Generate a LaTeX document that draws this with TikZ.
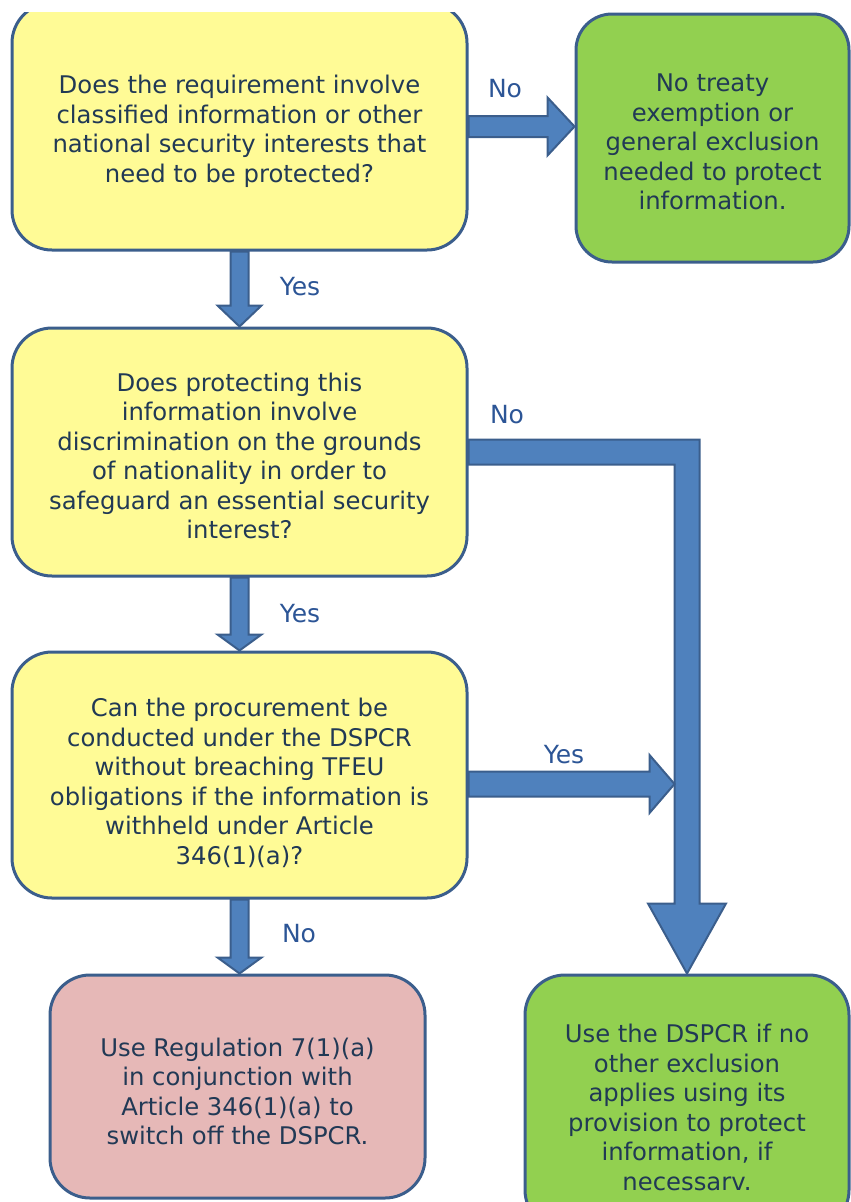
\documentclass[tikz,border=0pt]{standalone}
\usepackage{fontspec}
\setmainfont{DejaVu Sans}
\usetikzlibrary{calc}
\definecolor{qyellow}{HTML}{FFFB96}
\definecolor{okgreen}{HTML}{92D050}
\definecolor{stoppink}{HTML}{E6B8B7}
\definecolor{edge}{HTML}{3B5E8C}
\definecolor{barfill}{HTML}{4F81BD}
\definecolor{ink}{HTML}{213955}
\definecolor{lblblue}{HTML}{2C5596}
\newcommand\lift[1]{\rule{0pt}{#1}}
\begin{document}
\begin{tikzpicture}[x=1pt,y=-1pt,line join=miter,
	box/.style={draw=edge,line width=3pt,rounded corners=40pt,align=center,text=ink,inner sep=0pt,font=\fontsize{24.3}{29.5}\selectfont},
	lbl/.style={text=lblblue,anchor=base,font=\fontsize{25}{28}\selectfont},
	barrow/.style={fill=barfill,draw=edge,line width=2pt}]
	\useasboundingbox (0,0) rectangle (851,1202);
	\clip (0,0) rectangle (851,1202);
	\begin{scope}
		\clip (0,12) rectangle (851,1202);
		\node[box,fill=qyellow,minimum width=455pt,minimum height=247pt] (q1) at (239.5,126.5) {\lift{28.5pt}Does the requirement involve\\classified information or other\\national security interests that\\need to be protected?};
	\end{scope}
	\node[box,fill=okgreen,rounded corners=36pt,minimum width=273pt,minimum height=248pt] (no1) at (712.5,138) {\lift{25.5pt}No treaty\\exemption or\\general exclusion\\needed to protect\\information.};
	\node[box,fill=qyellow,minimum width=455pt,minimum height=248pt] (q2) at (239.5,452) {\lift{26.5pt}Does protecting this\\information involve\\discrimination on the grounds\\of nationality in order to\\safeguard an essential security\\interest?};
	\node[box,fill=qyellow,minimum width=455pt,minimum height=246pt] (q3) at (239.5,775) {\lift{34.5pt}Can the procurement be\\conducted under the DSPCR\\without breaching TFEU\\obligations if the information is\\withheld under Article\\346(1)(a)?};
	\node[box,fill=stoppink,minimum width=375pt,minimum height=223pt] (use7) at (237.5,1086.5) {\lift{28.5pt}Use Regulation 7(1)(a)\\in conjunction with\\Article 346(1)(a) to\\switch off the DSPCR.};
	\node[box,fill=okgreen,minimum width=324pt,minimum height=255pt] (dspcr) at (687,1102.5) {\lift{28.5pt}Use the DSPCR if no\\other exclusion\\applies using its\\provision to protect\\information, if\\necessarv.};
	\draw[barrow] ($(q1.east)+(0,-10.5)$) -- ($(no1.west|-q1.east)+(-27,-10.5)$) -- ($(no1.west|-q1.east)+(-27,-29)$) -- (no1.west|-q1.east) -- ($(no1.west|-q1.east)+(-27,29)$) -- ($(no1.west|-q1.east)+(-27,10.5)$) -- ($(q1.east)+(0,10.5)$) -- cycle;
	\draw[barrow] ($(q1.south)+(-9,0)$) -- ($(q2.north)+(-9,-21)$) -- ($(q2.north)+(-22,-21)$) -- (q2.north) -- ($(q2.north)+(22,-21)$) -- ($(q2.north)+(9,-21)$) -- ($(q1.south)+(9,0)$) -- cycle;
	\draw[barrow] ($(q2.south)+(-9,0)$) -- ($(q3.north)+(-9,-16)$) -- ($(q3.north)+(-22,-16)$) -- (q3.north) -- ($(q3.north)+(22,-16)$) -- ($(q3.north)+(9,-16)$) -- ($(q2.south)+(9,0)$) -- cycle;
	\draw[barrow] ($(q3.south)+(-9,0)$) -- ($(use7.north-|q3.south)+(-9,-16)$) -- ($(use7.north-|q3.south)+(-22,-16)$) -- (use7.north-|q3.south) -- ($(use7.north-|q3.south)+(22,-16)$) -- ($(use7.north-|q3.south)+(9,-16)$) -- ($(q3.south)+(9,0)$) -- cycle;
	\draw[barrow] ($(q2.east)+(0,-12.5)$) -- ($(dspcr.north|-q2.east)+(12.5,-12.5)$) -- ($(dspcr.north)+(12.5,-70)$) -- ($(dspcr.north)+(39,-70)$) -- (dspcr.north) -- ($(dspcr.north)+(-39,-70)$) -- ($(dspcr.north)+(-12.5,-70)$) -- ($(dspcr.north|-q2.east)+(-12.5,12.5)$) -- ($(q2.east)+(0,12.5)$) -- cycle;
	\draw[barrow] ($(q3.east)+(0,-3.5)$) -- ($(dspcr.north|-q3.east)+(-37.5,-3.5)$) -- ($(dspcr.north|-q3.east)+(-37.5,-20)$) -- ($(dspcr.north|-q3.east)+(-12.5,9)$) -- ($(dspcr.north|-q3.east)+(-37.5,38)$) -- ($(dspcr.north|-q3.east)+(-37.5,21.5)$) -- ($(q3.east)+(0,21.5)$) -- cycle;
	\node[lbl] (l1) at (505,97) {No};
	\node[lbl] (l2) at (300,295) {Yes};
	\node[lbl] (l3) at (507,423) {No};
	\node[lbl] (l4) at (300,622.5) {Yes};
	\node[lbl] (l5) at (564,763) {Yes};
	\node[lbl] (l6) at (299,942) {No};
\end{tikzpicture}
\end{document}
